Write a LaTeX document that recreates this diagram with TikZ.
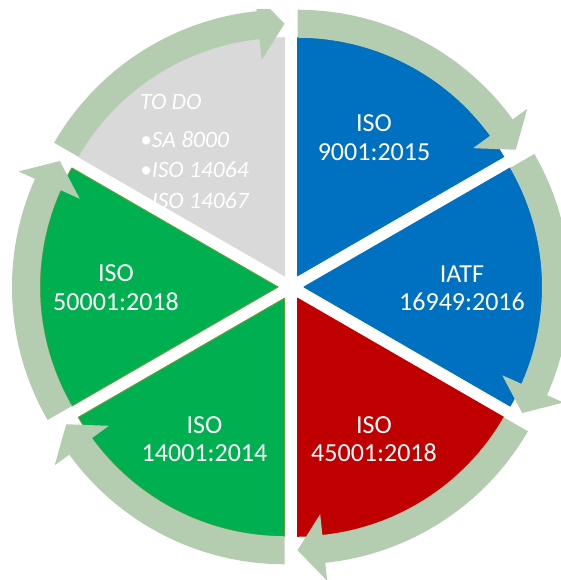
\documentclass[tikz,border=0pt]{standalone}
\usepackage{fontspec}
\setmainfont{Carlito}
\definecolor{isoblue}{HTML}{0070C0}
\definecolor{isored}{HTML}{C00000}
\definecolor{isogreen}{HTML}{00B050}
\definecolor{isoline}{HTML}{5E9E3C}
\definecolor{todogray}{HTML}{D9D9D9}
\definecolor{cyclearrow}{HTML}{B4CCAF}
\begin{document}
\begin{tikzpicture}[x=1pt, y=1pt, line join=round,
    cyc/.style={fill=cyclearrow},
    lbl/.style={text=white, align=center, inner sep=0pt, font=\fontsize{26}{28.5}\selectfont},
    todo/.style={text=white, align=left, inner sep=0pt, font=\fontsize{23.5}{30.5}\selectfont\itshape}]
  \def\R{238}  % sector radius
  \def\d{13}   % explode offset
  \useasboundingbox (-291,-293) rectangle (270,287);
  \clip (-291,-293) rectangle (270,277);
  % sectors
  \foreach \m/\c/\l in {60/isoblue/isoblue, 0/isoblue/isoblue, -60/isored/isored,
      -120/isogreen/isoline, 180/isogreen/isoline, 120/todogray/todogray}
    \filldraw[fill=\c, draw=\l, line width=1pt, shift={(\m:\d)}]
      (0,0) -- (\m+30:\R) arc[start angle=\m+30, end angle=\m-30, radius=\R] -- cycle;
  % cycle arrows
  \foreach \m in {60,0,-60,-120,180,120}
    \fill[cyc, shift={(\m:\d)}]
      (\m+30:266) arc[start angle=\m+30, end angle=\m-24, radius=266]
      -- (\m-24:284) -- (\m-30:252) -- (\m-24:217) -- (\m-24:\R)
      arc[start angle=\m-24, end angle=\m+30, radius=\R] -- cycle;
  % labels
  \node[lbl] (iso9001) at (83,149.5) {ISO\\9001:2015};
  \node[lbl] (iatf) at (171,-1.5) {IATF\\16949:2016};
  \node[lbl] (iso45001) at (83,-152) {ISO\\45001:2018};
  \node[lbl] (iso14001) at (-86.5,-152) {ISO\\14001:2014};
  \node[lbl] (iso50001) at (-175,-0.5) {ISO\\50001:2018};
  \node[todo, anchor=north west] (todo) at (-151,193) {TO DO\\[7.5pt]•SA 8000\\•ISO 14064\\•ISO 14067};
\end{tikzpicture}
\end{document}
